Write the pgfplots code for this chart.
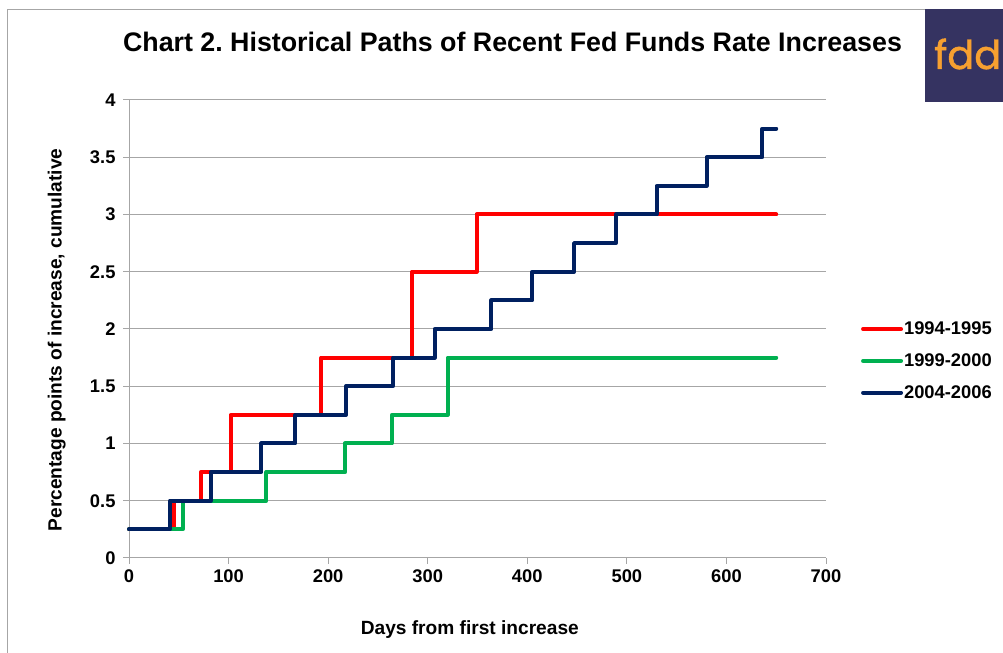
\documentclass[border=0pt]{standalone}
\usepackage{pgfplots}
\pgfplotsset{compat=1.18}
\usepackage{fontspec}
\setmainfont{Liberation Sans}
\newfontfamily\logofont[FakeBold=1.2]{Poppins}
\definecolor{cred}{RGB}{255,0,0}
\definecolor{cgreen}{RGB}{0,176,80}
\definecolor{cnavy}{RGB}{0,32,96}
\definecolor{cgrid}{RGB}{166,166,166}
\definecolor{clogo}{RGB}{53,51,97}
\definecolor{corange}{RGB}{247,160,48}
\begin{document}
\begin{tikzpicture}[x=1bp,y=1bp]
\useasboundingbox (0,0) rectangle (1003,653);
\draw[cgrid, line width=1bp] (7,-10) rectangle (1020,643.5);
\fill[clogo] (925,551) rectangle (1020,643.5);
\node[anchor=base west, inner sep=0, text=corange, font=\logofont\fontsize{40}{40}\selectfont] at (934,584) {fdd};
\node[font=\bfseries\fontsize{26.9}{30}\selectfont] at (512.5,611) {Chart 2.\ Historical Paths of Recent Fed Funds Rate Increases};
\begin{axis}[
  at={(129bp,95bp)}, anchor=south west,
  width=697bp, height=458bp, scale only axis,
  xmin=0, xmax=700, ymin=0, ymax=4,
  xtick={0,100,...,700},
  ytick={0,0.5,...,4},
  axis x line=bottom, axis y line=left,
  axis line style={cgrid, line width=1bp, -},
  ymajorgrids, grid style={cgrid, line width=1bp},
  tick align=outside, major tick length=6bp,
  tick style={cgrid, line width=1bp},
  /pgf/number format/assume math mode=true,
  tick label style={font=\bfseries\fontsize{18.4}{20}\selectfont},
  xticklabel style={yshift=-2bp},
  yticklabel style={xshift=-4bp},
  xlabel={Days from first increase},
  ylabel={Percentage points of increase, cumulative},
  label style={font=\bfseries\fontsize{19.2}{22}\selectfont},
  xlabel style={at={(ticklabel cs:0.489)}, anchor=center, yshift=-44bp},
  ylabel style={at={(ticklabel cs:0.476)}, anchor=center, yshift=30bp},
  legend style={at={(1.05,0.518)}, anchor=north west, draw=none, fill=none,
    font=\bfseries\fontsize{18.4}{21}\selectfont, row sep=15.5bp, inner sep=0pt,
    nodes={inner sep=1bp}},
  legend cell align=left,
  legend image code/.code={\draw[#1, line width=4bp, line cap=round] (0bp,0bp) -- (38bp,0bp);},
  every axis plot/.append style={line width=4bp, line join=round, line cap=round, const plot},
  clip=false,
]
\addplot[cred] coordinates {(0,0.25)(45,0.5)(72,0.75)(102,1.25)(193,1.75)(284,2.5)(349,3)(650,3)};
\addlegendentry{1994-1995}
\addplot[cgreen] coordinates {(0,0.25)(54,0.5)(138,0.75)(217,1.0)(264,1.25)(320,1.75)(650,1.75)};
\addlegendentry{1999-2000}
\addplot[cnavy] coordinates {(0,0.25)(41,0.5)(82,0.75)(133,1.0)(167,1.25)(218,1.5)(265,1.75)(307,2.0)(364,2.25)(405,2.5)(447,2.75)(489,3.0)(530,3.25)(580,3.5)(636,3.75)(650,3.75)};
\addlegendentry{2004-2006}
\end{axis}
\end{tikzpicture}
\end{document}
